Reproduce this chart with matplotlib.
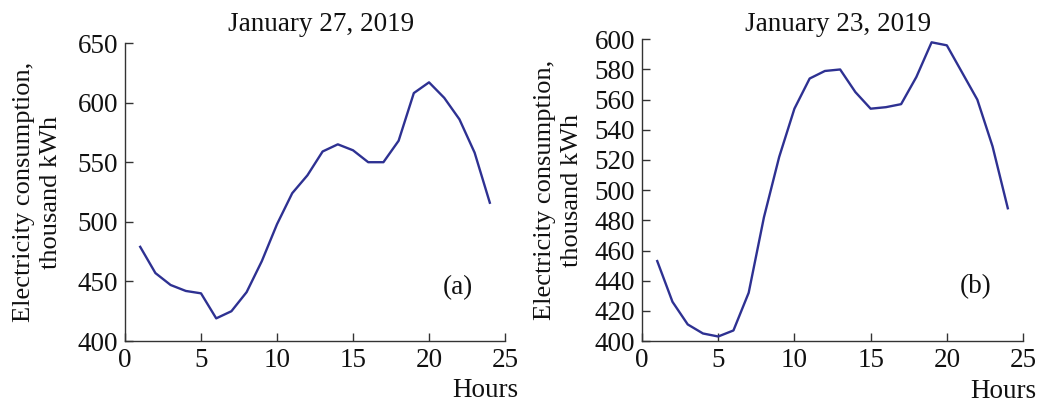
import numpy as np
import matplotlib
matplotlib.use("Agg")
import matplotlib.pyplot as plt

plt.rcParams['font.family'] = ['Liberation Serif', 'DejaVu Serif']

hours = list(range(1, 25))

# hourly consumption, thousand kWh
jan27 = [479, 457, 447, 442, 440, 419, 425, 441, 467, 498,
         524, 539, 559, 565, 560, 550, 550, 568, 608, 617,
         604, 586, 558, 516]
jan23 = [453, 426, 411, 405, 403, 407, 432, 482, 522, 554,
         574, 579, 580, 565, 554, 555, 557, 575, 598, 596,
         578, 560, 529, 488]

titles = ["January 27, 2019", "January 23, 2019"]
tags = ["(a)", "(b)"]
ylims = [(400, 650), (400, 600)]
ysteps = [50, 20]

line_color = "#2e3192"
axis_color = "#333333"
text_color = "#111111"

fig = plt.figure(figsize=(10.4, 4.03), dpi=100)
ax1 = fig.add_axes([0.1202, 0.1538, 0.3654, 0.7395])
ax2 = fig.add_axes([0.6173, 0.1538, 0.3664, 0.7487])

for ax, y, title, tag, ylim, step, lab_x, tpad in zip(
        [ax1, ax2], [jan27, jan23], titles, tags, ylims, ysteps,
        [-0.165, -0.155], [9, 6.3]):
    ax.plot(hours, y, color=line_color, lw=1.7)
    ax.set_xlim(0, 25)
    ax.set_ylim(*ylim)
    ax.set_xticks(range(0, 26, 5))
    ax.set_yticks(np.arange(ylim[0], ylim[1] + 1, step))
    for s in ["top", "right"]:
        ax.spines[s].set_visible(False)
    for s in ["left", "bottom"]:
        ax.spines[s].set_color(axis_color)
        ax.spines[s].set_linewidth(1.0)
    ax.tick_params(direction="in", length=6, width=1.0, color=axis_color,
                   labelsize=19.5, pad=5, labelcolor=text_color)
    ax.set_title(title, fontsize=19.5, pad=tpad, color=text_color, x=0.515)
    ax.set_ylabel("Electricity consumption,\nthousand kWh", fontsize=19,
                  linespacing=1.3, color=text_color)
    ax.yaxis.set_label_coords(lab_x, 0.5)
    ax.set_xlabel("Hours", fontsize=19.5, color=text_color, ha="right")
    ax.xaxis.set_label_coords(1.035, -0.125)
    ax.text(0.875, 0.18, tag, transform=ax.transAxes, fontsize=19.5,
            ha="center", va="center", color=text_color)

fig.savefig("out.png", dpi=100)
